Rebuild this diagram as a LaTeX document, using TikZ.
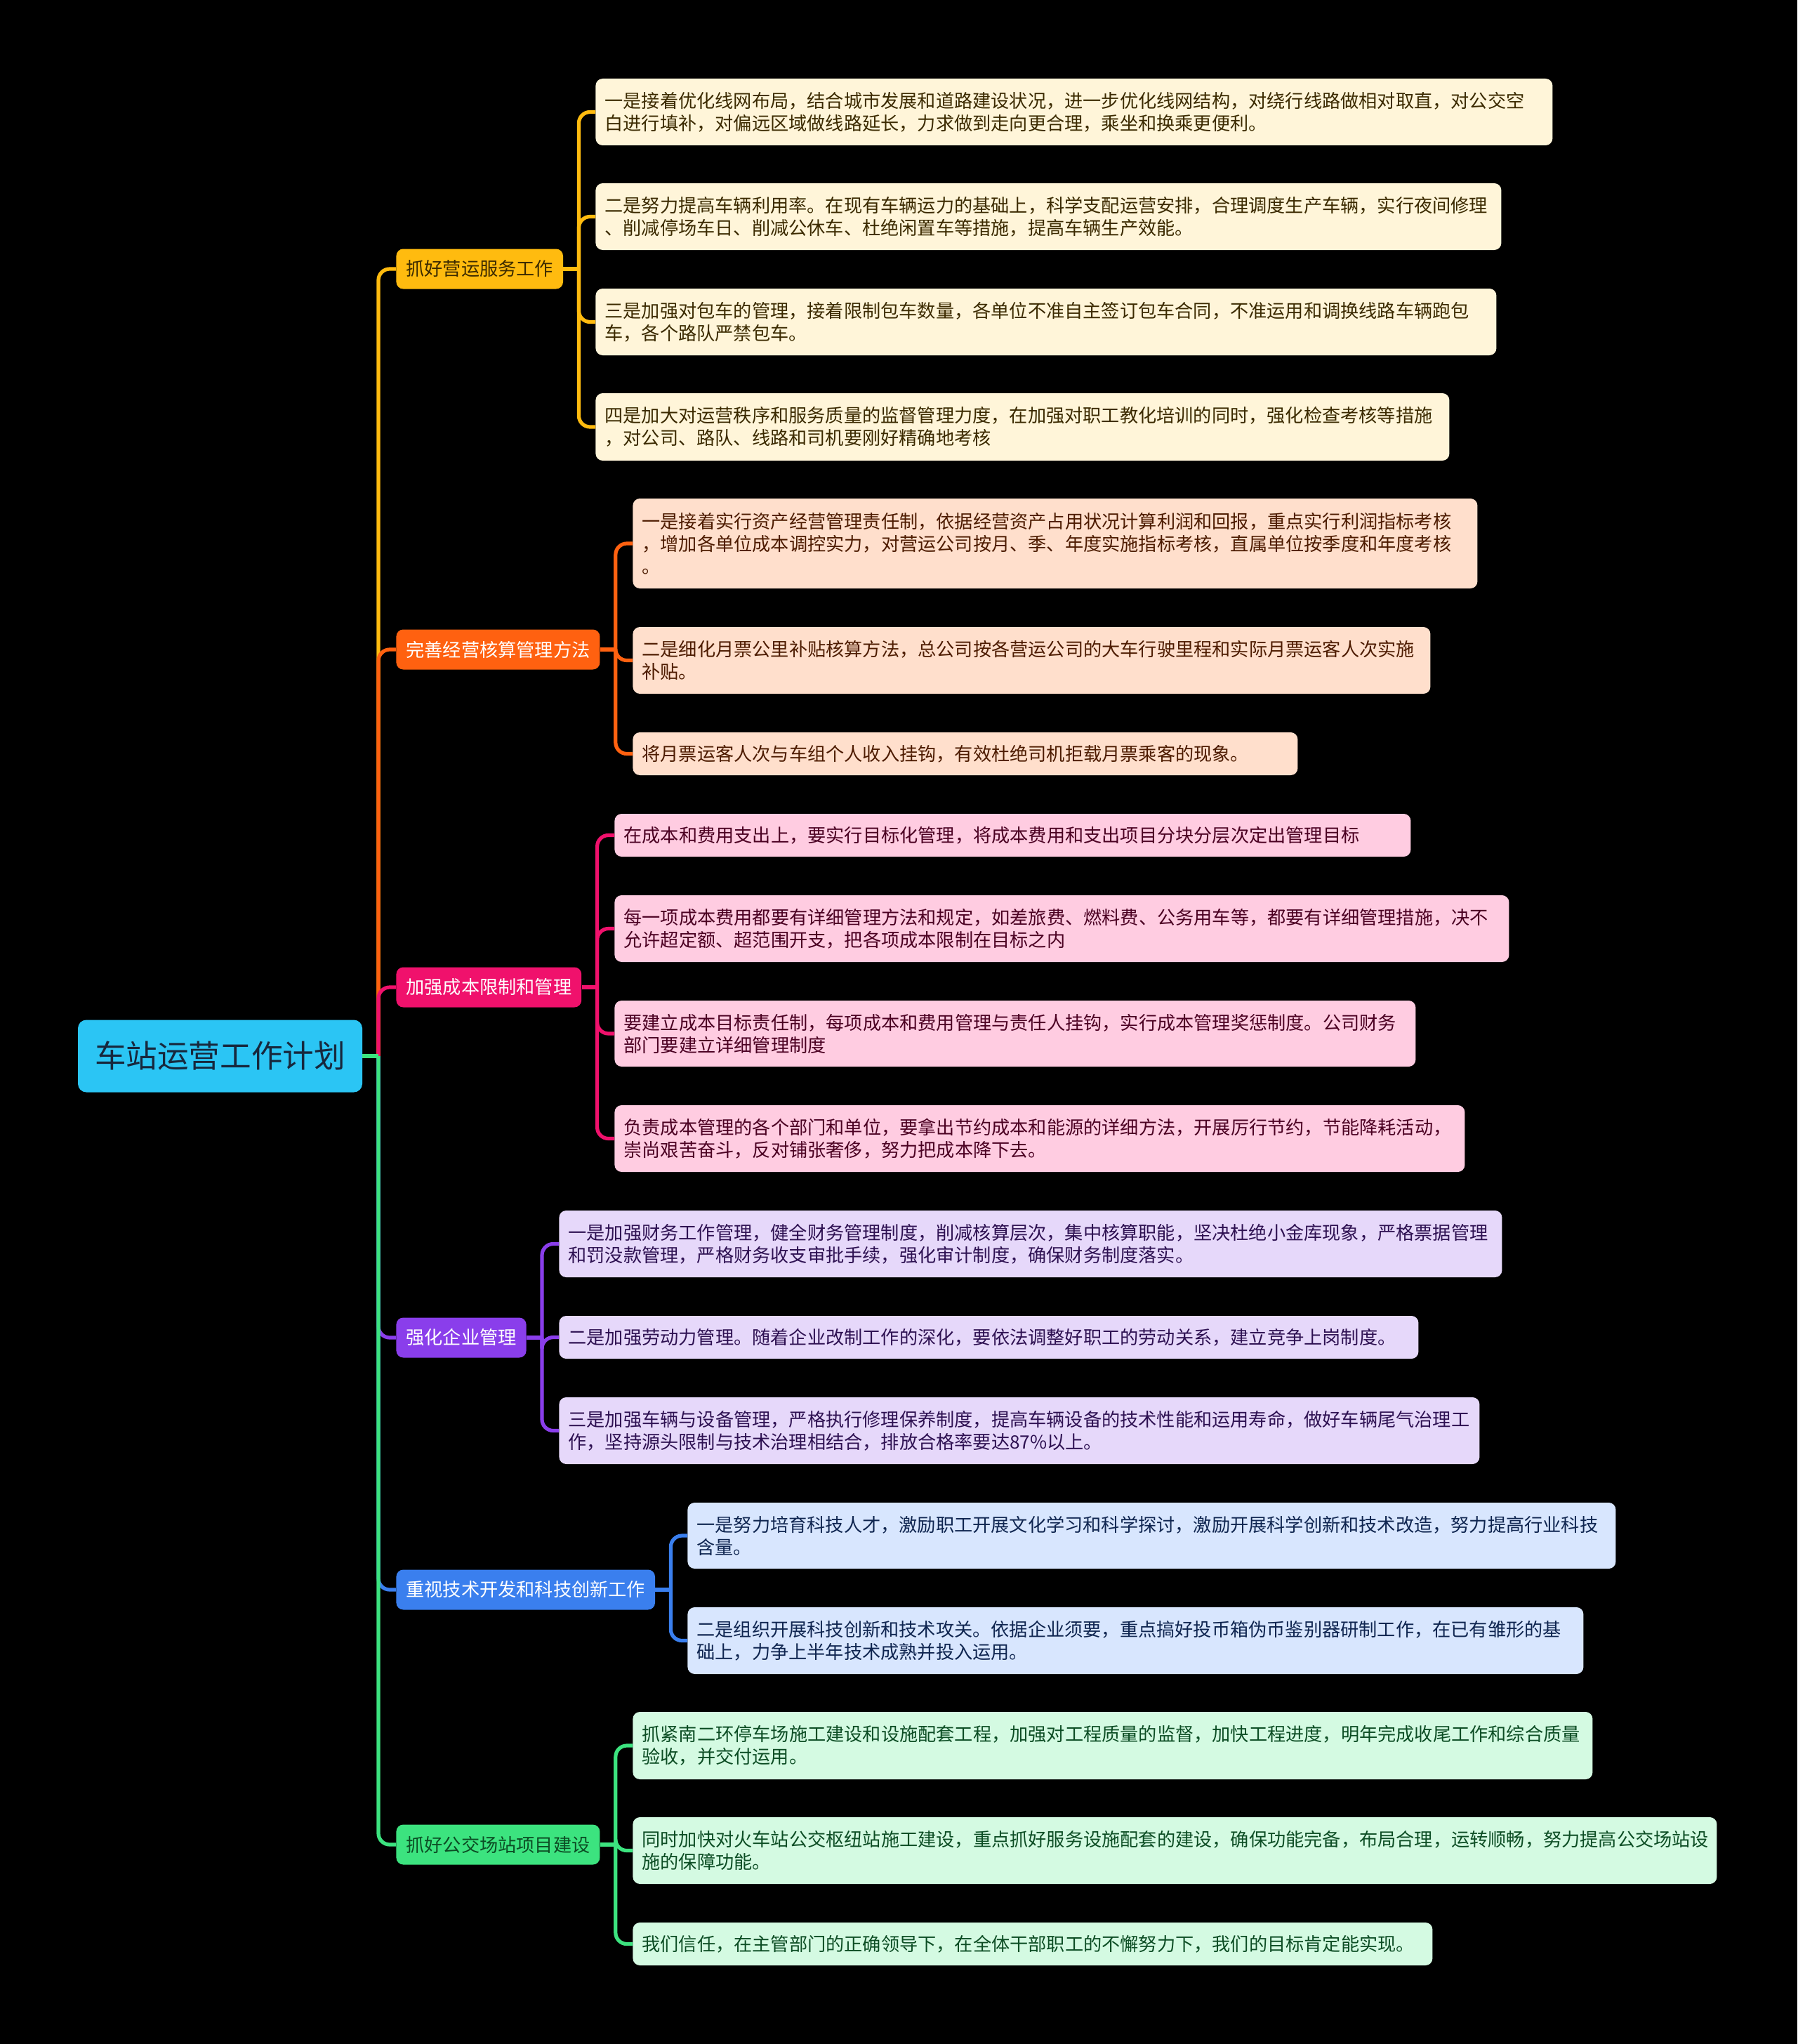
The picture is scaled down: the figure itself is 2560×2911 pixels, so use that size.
\documentclass[tikz,border=0pt]{standalone}
\usepackage{fontspec}
\setmainfont{Noto Sans CJK SC}
\usepackage{xcolor}
\usetikzlibrary{positioning}
\definecolor{pageBg}{HTML}{000000}
\definecolor{rootFill}{HTML}{2BC5F4}
\definecolor{rootInk}{HTML}{17283D}
\definecolor{yelLine}{HTML}{FFBB0F}
\definecolor{yelFill}{HTML}{FFF5D9}
\definecolor{yelInk}{HTML}{3B2A00}
\definecolor{oraLine}{HTML}{FF6110}
\definecolor{oraFill}{HTML}{FFDFCC}
\definecolor{oraInk}{HTML}{4D1B00}
\definecolor{pinLine}{HTML}{F0116C}
\definecolor{pinFill}{HTML}{FFCCE1}
\definecolor{pinInk}{HTML}{4B0022}
\definecolor{purLine}{HTML}{8A3EEB}
\definecolor{purFill}{HTML}{E6D8FA}
\definecolor{purInk}{HTML}{2E1152}
\definecolor{bluLine}{HTML}{3A7FEE}
\definecolor{bluFill}{HTML}{D8E6FE}
\definecolor{bluInk}{HTML}{0F2550}
\definecolor{greLine}{HTML}{3CE37F}
\definecolor{greFill}{HTML}{D4FAE2}
\definecolor{greInk}{HTML}{0C4D24}
\tikzset{
  root/.style={fill=rootFill, text=rootInk, rounded corners=6pt, minimum width=202.5pt, minimum height=51.5pt,
    inner sep=0pt, font=\fontsize{22.3pt}{26pt}\selectfont},
  branch/.style={anchor=west, rounded corners=5pt, inner xsep=7pt, inner ysep=0pt, minimum height=28.5pt,
    font=\fontsize{13.1pt}{16pt}\selectfont},
  leaf/.style={anchor=west, rounded corners=5pt, inner xsep=6.5pt, inner ysep=2pt, align=left,
    font=\fontsize{13.1pt}{16pt}\selectfont},
  link/.style={line width=2.6pt},
}
\begin{document}
\begin{tikzpicture}[x=0.5pt, y=-0.5pt]
  \fill[pageBg] (0,0) rectangle (2560,2911);
  \useasboundingbox (0,0) rectangle (2560,2911);
  % \leafbox{name}{left}{top}{right}{bottom}{colour}{text}
  \newcommand{\leafbox}[7]{%
    \pgfmathsetmacro{\lbw}{(#4-#2)*0.5-13}%
    \pgfmathsetmacro{\lbh}{(#5-#3)*0.5}%
    \node[leaf, fill=#6Fill, text=#6Ink, text width=\lbw pt, minimum height=\lbh pt] (#1) at (#2,{(#3+#5)/2}) {#7};}
  % ---- root and main branches
  \node[root] (root) at (313.5,1504) {车站运营工作计划};
  \coordinate (jn) at (539,1504);
  \node[branch, fill=yelLine, text=yelInk] (b1) at (564,383) {抓好营运服务工作};
  \node[branch, fill=oraLine, text=white] (b2) at (564,925) {完善经营核算管理方法};
  \node[branch, fill=pinLine, text=white] (b3) at (564,1406) {加强成本限制和管理};
  \node[branch, fill=purLine, text=white] (b4) at (564,1905) {强化企业管理};
  \node[branch, fill=bluLine, text=white] (b5) at (564,2264) {重视技术开发和科技创新工作};
  \node[branch, fill=greLine, text=greInk] (b6) at (564,2627) {抓好公交场站项目建设};
  % ---- leaves
  \leafbox{l1a}{848}{112}{2211}{207}{yel}{一是接着优化线网布局，结合城市发展和道路建设状况，进一步优化线网结构，对绕行线路做相对取直，对公交空\\白进行填补，对偏远区域做线路延长，力求做到走向更合理，乘坐和换乘更便利。}
  \leafbox{l1b}{848}{261}{2138}{356}{yel}{二是努力提高车辆利用率。在现有车辆运力的基础上，科学支配运营安排，合理调度生产车辆，实行夜间修理\\、削减停场车日、削减公休车、杜绝闲置车等措施，提高车辆生产效能。}
  \leafbox{l1c}{848}{411}{2131}{506}{yel}{三是加强对包车的管理，接着限制包车数量，各单位不准自主签订包车合同，不准运用和调换线路车辆跑包\\车，各个路队严禁包车。}
  \leafbox{l1d}{848}{560}{2064}{656}{yel}{四是加大对运营秩序和服务质量的监督管理力度，在加强对职工教化培训的同时，强化检查考核等措施\\，对公司、路队、线路和司机要刚好精确地考核}
  \leafbox{l2a}{901}{710}{2104}{838}{ora}{一是接着实行资产经营管理责任制，依据经营资产占用状况计算利润和回报，重点实行利润指标考核\\，增加各单位成本调控实力，对营运公司按月、季、年度实施指标考核，直属单位按季度和年度考核\\。}
  \leafbox{l2b}{901}{893}{2037}{988}{ora}{二是细化月票公里补贴核算方法，总公司按各营运公司的大车行驶里程和实际月票运客人次实施\\补贴。}
  \leafbox{l2c}{901}{1043}{1848}{1104}{ora}{将月票运客人次与车组个人收入挂钩，有效杜绝司机拒载月票乘客的现象。}
  \leafbox{l3a}{875}{1159}{2009}{1220}{pin}{在成本和费用支出上，要实行目标化管理，将成本费用和支出项目分块分层次定出管理目标}
  \leafbox{l3b}{875}{1275}{2149}{1370}{pin}{每一项成本费用都要有详细管理方法和规定，如差旅费、燃料费、公务用车等，都要有详细管理措施，决不\\允许超定额、超范围开支，把各项成本限制在目标之内}
  \leafbox{l3c}{875}{1425}{2016}{1519}{pin}{要建立成本目标责任制，每项成本和费用管理与责任人挂钩，实行成本管理奖惩制度。公司财务\\部门要建立详细管理制度}
  \leafbox{l3d}{875}{1574}{2086}{1669}{pin}{负责成本管理的各个部门和单位，要拿出节约成本和能源的详细方法，开展厉行节约，节能降耗活动，\\崇尚艰苦奋斗，反对铺张奢侈，努力把成本降下去。}
  \leafbox{l4a}{796}{1724}{2139}{1819}{pur}{一是加强财务工作管理，健全财务管理制度，削减核算层次，集中核算职能，坚决杜绝小金库现象，严格票据管理\\和罚没款管理，严格财务收支审批手续，强化审计制度，确保财务制度落实。}
  \leafbox{l4b}{796}{1874}{2020}{1935}{pur}{二是加强劳动力管理。随着企业改制工作的深化，要依法调整好职工的劳动关系，建立竞争上岗制度。}
  \leafbox{l4c}{796}{1990}{2107}{2085}{pur}{三是加强车辆与设备管理，严格执行修理保养制度，提高车辆设备的技术性能和运用寿命，做好车辆尾气治理工\\作，坚持源头限制与技术治理相结合，排放合格率要达87\%以上。}
  \leafbox{l5a}{979}{2140}{2301}{2234}{blu}{一是努力培育科技人才，激励职工开展文化学习和科学探讨，激励开展科学创新和技术改造，努力提高行业科技\\含量。}
  \leafbox{l5b}{979}{2289}{2255}{2384}{blu}{二是组织开展科技创新和技术攻关。依据企业须要，重点搞好投币箱伪币鉴别器研制工作，在已有雏形的基\\础上，力争上半年技术成熟并投入运用。}
  \leafbox{l6a}{901}{2438}{2268}{2534}{gre}{抓紧南二环停车场施工建设和设施配套工程，加强对工程质量的监督，加快工程进度，明年完成收尾工作和综合质量\\验收，并交付运用。}
  \leafbox{l6b}{901}{2588}{2445}{2683}{gre}{同时加快对火车站公交枢纽站施工建设，重点抓好服务设施配套的建设，确保功能完备，布局合理，运转顺畅，努力提高公交场站设\\施的保障功能。}
  \leafbox{l6c}{901}{2738}{2040}{2799}{gre}{我们信任，在主管部门的正确领导下，在全体干部职工的不懈努力下，我们的目标肯定能实现。}
  % ---- root to branches, later colours on top
  \foreach \br/\cl in {b1/yel, b2/ora, b3/pin, b4/pur, b5/blu, b6/gre} {
    \draw[link, \cl Line] (root.east) -- (jn);
    \draw[link, \cl Line, rounded corners=8pt] (jn) |- (\br.west);
    \draw[link, \cl Line] (\br.east) -- ++(22,0) coordinate (\br j);
  }
  % ---- branches to leaves
  \foreach \br/\lf/\cl in {b1/l1a/yel, b1/l1b/yel, b1/l1c/yel, b1/l1d/yel, b2/l2a/ora, b2/l2b/ora, b2/l2c/ora,
    b3/l3a/pin, b3/l3b/pin, b3/l3c/pin, b3/l3d/pin, b4/l4a/pur, b4/l4b/pur, b4/l4c/pur,
    b5/l5a/blu, b5/l5b/blu, b6/l6a/gre, b6/l6b/gre, b6/l6c/gre}
    \draw[link, \cl Line, rounded corners=8pt] (\br j) |- (\lf.west);
\end{tikzpicture}
\end{document}
